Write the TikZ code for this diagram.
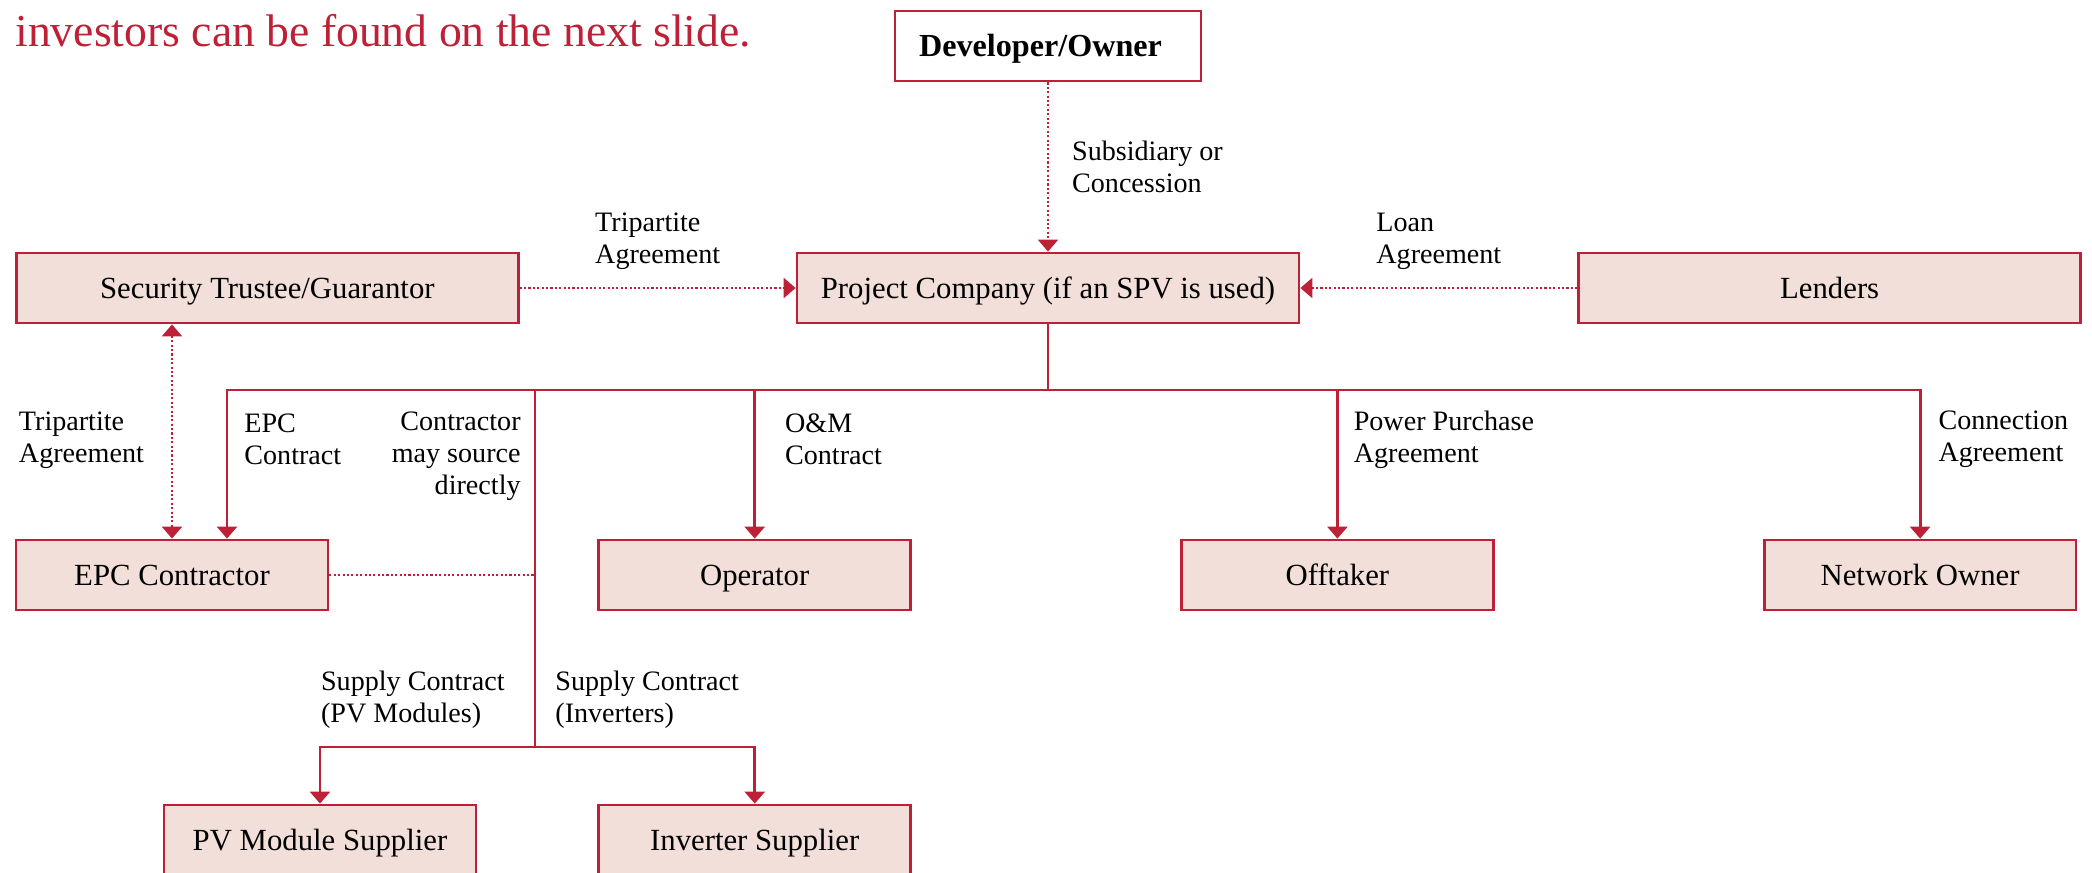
\documentclass[tikz,border=0pt]{standalone}
\usepackage{fontspec}
\setmainfont{Liberation Serif}
\usetikzlibrary{arrows.meta,positioning}
\definecolor{pwcred}{RGB}{190,33,55}
\definecolor{pwcpink}{RGB}{243,223,217}

\begin{document}
\begin{tikzpicture}[x=0.02cm, y=-0.02cm,
    party/.style={draw=pwcred, line width=1.6pt, fill=pwcpink, minimum width=6.24cm,
      minimum height=1.4cm, inner sep=0pt, text height=11.6pt, text depth=0pt,
      font=\fontsize{17.5}{20}\selectfont},
    wideparty/.style={party, minimum width=10.04cm},
    link/.style={draw=pwcred, line width=1.6pt},
    dotlink/.style={draw=pwcred, line width=1.3pt, dash pattern=on 1.2pt off 1.3pt},
    arr/.style={-{Triangle[length=0.24cm, width=0.4cm]}},
    arrs/.style={{Triangle[length=0.24cm, width=0.4cm]}-{Triangle[length=0.24cm, width=0.4cm]}},
    lbl/.style={inner sep=0pt, align=left, font=\fontsize{16}{18.2}\selectfont}]
        \useasboundingbox (0,0) rectangle (2092,872);

        \node [anchor=base west, inner sep=0pt, text=pwcred, font=\fontsize{26}{30}\selectfont] (note) at (15,46) {investors can be found on the next slide.};

        \node [party, fill=white, minimum width=6.12cm, font=\bfseries\fontsize{18.3}{20}\selectfont] (dev) at (1048,46) {Developer/Owner\hspace*{0.3cm}};
        \node [wideparty] (pc) at (1048,288) {Project Company (if an SPV is used)};
        \node [wideparty, left=5.52cm of pc] (st) {Security Trustee/Guarantor};
        \node [wideparty, right=5.54cm of pc] (lend) {Lenders};

        \node [party] (epc) at (172,575) {EPC Contractor};
        \node [party, right=5.36cm of epc] (op) {Operator};
        \node [party, right=5.36cm of op] (off) {Offtaker};
        \node [party, right=5.36cm of off] (net) {Network Owner};

        \node [party] (pvs) at (320,840) {PV Module Supplier};
        \node [party, right=2.4cm of pvs] (inv) {Inverter Supplier};

        \coordinate (bus) at (1048,390);
        \coordinate (src) at (535,390);
        \coordinate (sup) at (535,747);
        \coordinate (epcin) at ([xshift=1.1cm]epc.north);

        \draw[dotlink, arr] (dev) -- node [lbl, right=0.46cm] {Subsidiary or\\Concession} (pc);
        \draw[dotlink, arr] (st) -- node [lbl, above=0.34cm] {Tripartite\\Agreement} (pc);
        \draw[dotlink, arr] (lend) -- node [lbl, above=0.34cm] {Loan\\Agreement} (pc);
        \draw[dotlink, arrs] (epc.north |- st.south) -- node [lbl, left=0.54cm, yshift=-0.18cm] {Tripartite\\Agreement} (epc.north);

        \draw[link] (pc) -- (bus);
        \draw[link, arr] (bus) -| node [lbl, pos=0.667, right=0.32cm] {EPC\\Contract} (epcin);
        \draw[link, arr] (bus) -| node [lbl, pos=0.667, right=0.58cm] {O\&M\\Contract} (op);
        \draw[link, arr] (bus) -| node [lbl, pos=0.667, right=0.3cm] {Power Purchase\\Agreement} (off);
        \draw[link, arr] (bus) -| node [lbl, pos=0.667, right=0.34cm] {Connection\\Agreement} (net);

        \draw[link] (src) -- node [lbl, pos=0.185, left=0.26cm, align=right] {Contractor\\may source\\directly}
            node [lbl, pos=0.868, left=0.58cm] {Supply Contract\\(PV Modules)}
            node [lbl, pos=0.868, right=0.38cm] {Supply Contract\\(Inverters)} (sup);
        \draw[dotlink] (epc) -- (epc -| src);
        \draw[link, arr] (sup) -| (pvs);
        \draw[link, arr] (sup) -| (inv);
      \end{tikzpicture}
\end{document}
